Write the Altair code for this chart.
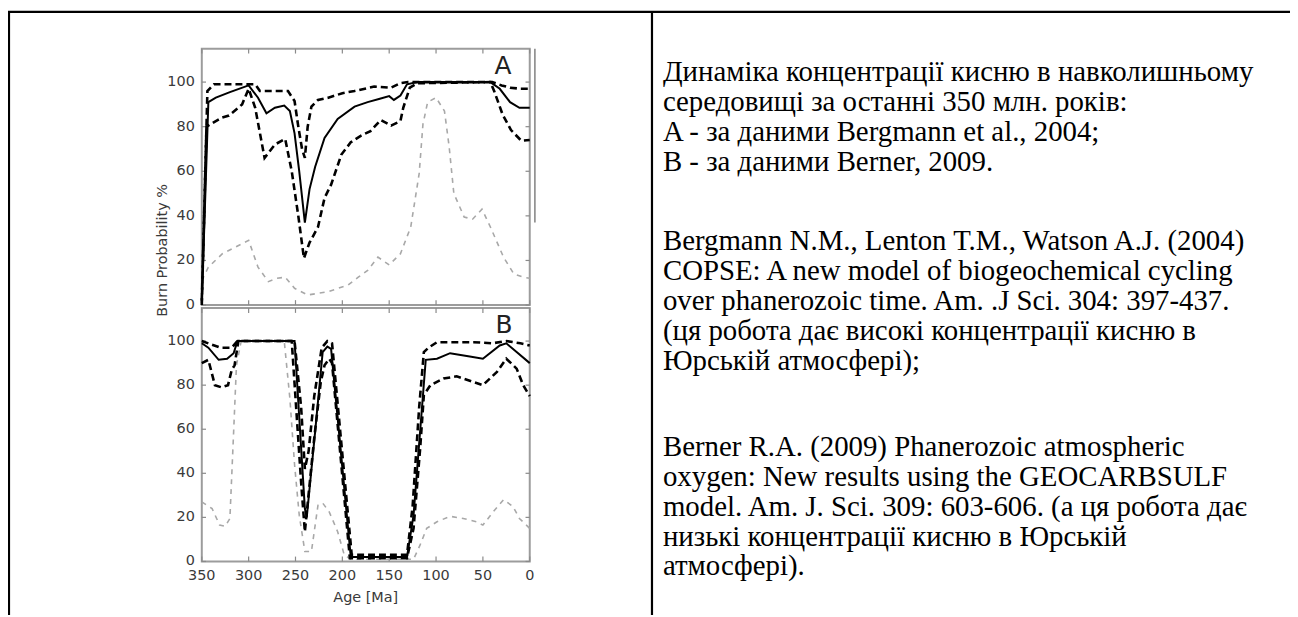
import altair as alt
import pandas as pd

# ---------------- values ----------------
X_TICKS = [350, 300, 250, 200, 150, 100, 50, 0]
Y_TICKS = [0, 20, 40, 60, 80, 100]

# Panel A (Bergmann et al., 2004)
A_MED_AGE = [350, 343, 335, 320, 300, 290, 281, 272, 262, 256, 251, 246, 240, 235, 229, 219, 205, 187, 173, 160, 150, 145, 138, 131, 120, 100, 42, 32, 21, 11, 0]
A_MED_VAL = [1, 91, 93, 95.5, 98.5, 93, 86, 88.5, 89.5, 87, 77, 60, 37, 52, 62, 75, 83.5, 89, 91, 92.5, 93.7, 92, 94, 99, 100, 100, 100, 97, 91, 88.5, 88.5]
A_HI_AGE = [350, 344, 337, 300, 293, 288, 258, 251, 247, 243, 240, 237, 233, 226, 215, 200, 187, 166, 148, 138, 130, 40, 30, 21, 10, 0]
A_HI_VAL = [2, 96, 99, 99, 99, 96, 96, 91.5, 80, 70, 66, 80, 89, 92, 93, 95, 96, 98, 97.5, 99.5, 100, 100, 98.5, 97.5, 97, 97]
A_LO_AGE = [350, 345, 329, 321, 311, 307, 300, 293, 283, 272, 261, 254, 247, 241, 235, 226, 219, 212, 201, 191, 180, 170, 159, 148, 138, 135, 128, 120, 42, 38, 29, 20, 9, 0]
A_LO_VAL = [0, 80, 84, 85, 88.5, 90, 97, 88.5, 66, 72, 74.5, 60, 40, 21, 28, 35, 48, 54, 67.5, 73, 76, 78, 83, 80.5, 82.5, 88.5, 97.5, 99.5, 100, 96, 85.5, 78.5, 73.7, 74]
A_GR_AGE = [350, 343, 328, 314, 300, 290, 279, 270, 261, 251, 237, 215, 194, 183, 173, 162, 150, 138, 127, 118, 114, 109, 100, 91, 86, 81, 70, 61, 51, 42, 28, 17, 7, 0]
A_GR_VAL = [11, 17, 23, 26, 29, 17, 10.5, 12, 12.5, 7.5, 4.5, 6, 9, 12.5, 15.5, 21.5, 18, 23, 35, 59, 81, 91, 93, 87, 71, 50, 39.5, 38.5, 43, 35, 21.5, 14, 12.5, 12]

# Panel B (Berner, 2009)
B_MED_AGE = [350, 343, 332, 323, 316, 312, 251, 240, 238, 229, 221, 216, 212, 191, 131, 124, 117, 111, 99, 85, 64, 50, 32, 25, 14, 0]
B_MED_VAL = [99, 97, 91.5, 92, 94.5, 100, 100, 24, 20, 59, 95, 97.5, 96.5, 2, 2, 21, 59, 91.5, 92, 94.5, 93, 92, 98, 99, 95, 90]
B_HI_AGE = [350, 340, 330, 318, 312, 251, 244, 240, 236, 230, 222, 216, 211, 190, 131, 125, 118, 113, 108, 99, 60, 40, 25, 10, 0]
B_HI_VAL = [100, 98.5, 97, 97, 100, 100, 70, 42, 50, 75, 97, 100, 99, 3, 3, 25, 70, 95, 97, 99.5, 99.5, 99, 100, 99, 98]
B_LO_AGE = [350, 343, 336, 329, 322, 318, 315, 311, 254, 244, 240, 230, 223, 219, 214, 211, 192, 131, 124, 117, 113, 106, 92, 78, 64, 50, 35, 25, 14, 7, 0]
B_LO_VAL = [90, 91.5, 80, 79, 80, 87, 89, 100, 100, 36, 13.5, 56, 81.5, 89, 92, 90, 1.5, 1.5, 15, 51, 75.5, 80, 83, 84, 82, 80, 86, 92, 87.5, 80, 75]
B_GR_AGE = [350, 339, 331, 325, 320, 316, 313, 308, 262, 256, 251, 246, 240, 233, 226, 221, 214, 205, 198, 191, 124, 117, 110, 99, 85, 71, 57, 50, 39, 28, 18, 11, 0]
B_GR_VAL = [27, 24, 16.5, 16, 19.5, 59, 89, 100, 100, 74, 44, 21, 4.5, 4.5, 25.5, 26.5, 22.5, 13.5, 3, 1, 1, 7.5, 15, 18, 20.5, 19.5, 18, 16.5, 22.5, 28, 25, 19.5, 15]

Y_TITLE = "Burn Probability %"
X_TITLE = "Age [Ma]"
PANEL_A = "A"
PANEL_B = "B"

TEXT_P1 = [
    "Динаміка концентрації кисню в навколишньому",
    "середовищі за останні 350 млн. років:",
    "A - за даними Bergmann et al., 2004;",
    "B - за даними Berner, 2009.",
]
TEXT_P2 = [
    "Bergmann N.M., Lenton T.M., Watson A.J. (2004)",
    "COPSE: A new model of biogeochemical cycling",
    "over phanerozoic time. Am. .J Sci. 304: 397-437.",
    "(ця робота дає високі концентрації кисню в",
    "Юрській атмосфері);",
]
TEXT_P3 = [
    "Berner R.A. (2009) Phanerozoic atmospheric",
    "oxygen: New results using the GEOCARBSULF",
    "model. Am. J. Sci. 309: 603-606. (а ця робота дає",
    "низькі концентрації кисню в Юрській",
    "атмосфері).",
]

# ---------------- chart ----------------
W, H = 1290, 609
XS = alt.Scale(domain=[350, 0], range=[195, 525], nice=False, zero=False)
YA = alt.Scale(domain=[0, 115], range=[297, 39], nice=False, zero=False)
YB = alt.Scale(domain=[0, 115], range=[555, 300], nice=False, zero=False)

ONE = pd.DataFrame({"k": [0]})
LABEL_FONT = "DejaVu Sans"
LABEL_SIZE = 14.5
LABEL_COLOR = "#3a3a3a"

SOLID = dict(color="black", strokeWidth=2)
DASH = dict(color="black", strokeWidth=2.6, strokeDash=[7, 4])
GRAY = dict(color="#a8a8a8", strokeWidth=1.6, strokeDash=[5, 5])


def line(ages, vals, ys, style):
    df = pd.DataFrame({"age": ages, "val": vals})
    return alt.Chart(df).mark_line(**style).encode(
        x=alt.X("age:Q", scale=XS, axis=None),
        y=alt.Y("val:Q", scale=ys, axis=None),
    )


def frame(ys):
    df = pd.DataFrame({"a0": [350], "a1": [0], "v0": [0], "v1": [115]})
    return alt.Chart(df).mark_rect(fillOpacity=0, stroke="#9c9c9c", strokeWidth=2).encode(
        x=alt.X("a0:Q", scale=XS, axis=None),
        x2="a1:Q",
        y=alt.Y("v0:Q", scale=ys, axis=None),
        y2="v1:Q",
    )


def ticks(ys):
    rows = []
    for t in X_TICKS:
        rows.append({"a0": t, "a1": t, "v0": 0, "v1": 2.2})
        rows.append({"a0": t, "a1": t, "v0": 115, "v1": 112.8})
    for t in Y_TICKS:
        rows.append({"a0": 350, "a1": 345.5, "v0": t, "v1": t})
        rows.append({"a0": 0, "a1": 4.5, "v0": t, "v1": t})
    df = pd.DataFrame(rows)
    return alt.Chart(df).mark_rule(color="#8a8a8a", strokeWidth=1.2).encode(
        x=alt.X("a0:Q", scale=XS, axis=None), x2="a1:Q",
        y=alt.Y("v0:Q", scale=ys, axis=None), y2="v1:Q",
    )


def ylabels(ys):
    return alt.Chart(pd.DataFrame({"v": Y_TICKS})).mark_text(
        align="right", baseline="middle", font=LABEL_FONT, fontSize=LABEL_SIZE,
        color=LABEL_COLOR).encode(
        x=alt.value(188),
        y=alt.Y("v:Q", scale=ys, axis=None),
        text=alt.Text("v:Q", format="d"),
    )


def xlabels():
    return alt.Chart(pd.DataFrame({"a": X_TICKS})).mark_text(
        align="center", baseline="middle", font=LABEL_FONT, fontSize=LABEL_SIZE,
        color=LABEL_COLOR).encode(
        x=alt.X("a:Q", scale=XS, axis=None),
        y=alt.value(570),
        text=alt.Text("a:Q", format="d"),
    )


edge = alt.Chart(pd.DataFrame({"a0": [-5.5], "v0": [115], "v1": [37]})).mark_rule(
    color="#808080", strokeWidth=1.5).encode(
    x=alt.X("a0:Q", scale=XS, axis=None),
    y=alt.Y("v0:Q", scale=YA, axis=None), y2="v1:Q")

layer_a = alt.layer(
    frame(YA),
    ticks(YA),
    ylabels(YA),
    edge,
    line(A_GR_AGE, A_GR_VAL, YA, GRAY),
    line(A_LO_AGE, A_LO_VAL, YA, DASH),
    line(A_HI_AGE, A_HI_VAL, YA, DASH),
    line(A_MED_AGE, A_MED_VAL, YA, SOLID),
)
layer_b = alt.layer(
    frame(YB),
    ticks(YB),
    ylabels(YB),
    xlabels(),
    line(B_GR_AGE, B_GR_VAL, YB, GRAY),
    line(B_LO_AGE, B_LO_VAL, YB, DASH),
    line(B_HI_AGE, B_HI_VAL, YB, DASH),
    line(B_MED_AGE, B_MED_VAL, YB, SOLID),
)


def label(txt, x, y, size, angle=0, color=LABEL_COLOR, font=LABEL_FONT):
    kw = dict(align="center", baseline="middle", font=font, fontSize=size, color=color)
    if angle:
        kw["angle"] = angle
    return alt.Chart(ONE).mark_text(**kw).encode(
        x=alt.value(x), y=alt.value(y), text=alt.value(txt))


def para(lines, y):
    return alt.Chart(ONE).mark_text(
        align="left", baseline="alphabetic", font="Liberation Serif", fontSize=29,
        lineHeight=30, color="black").encode(
        x=alt.value(659), y=alt.value(y), text=alt.value(lines))


def rule(x, x2, y, y2):
    return alt.Chart(ONE).mark_rule(color="black", strokeWidth=2.2).encode(
        x=alt.value(x), x2=alt.value(x2), y=alt.value(y), y2=alt.value(y2))


deco = [
    rule(0, W, 2, 2),
    rule(1, 1, 1, H),
    rule(648, 648, 1, H),
    label(Y_TITLE, 156, 242, 14.5, angle=270),
    label(X_TITLE, 360, 592, 14.5),
    label(PANEL_A, 498, 57, 25, color="#222222"),
    label(PANEL_B, 499, 317, 25, color="#222222"),
    para(TEXT_P1, 72),
    para(TEXT_P2, 242),
    para(TEXT_P3, 449),
]

chart = alt.layer(layer_a, layer_b, *deco).resolve_scale(y="independent").properties(
    width=W, height=H, autosize="none", padding=0, background="white"
).configure_view(stroke=None)

chart.save("out.html", embed_options={"renderer": "svg", "actions": False})
